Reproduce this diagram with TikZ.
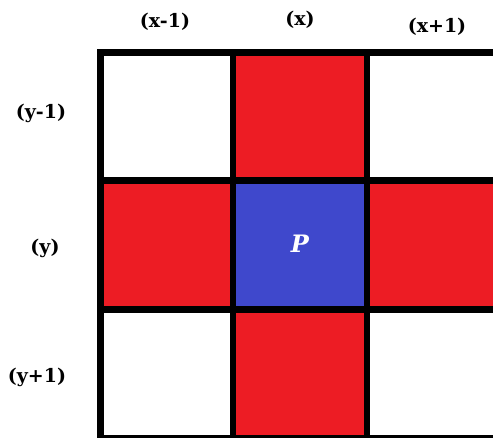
\documentclass[tikz,border=0pt]{standalone}
\usepackage{fontspec}
\setmainfont{DejaVu Serif}
\usepackage{tikz}

\definecolor{cellred}{HTML}{ED1C24}
\definecolor{cellblue}{HTML}{3F48CC}

\begin{document}
\begin{tikzpicture}[
  x=1pt,y=-1pt,
  lbl/.style={font=\fontsize{19}{21}\selectfont\bfseries},
  gridline/.style={line width=6.5pt}
]
\useasboundingbox (0,0) rectangle (493,437);
\clip (0,0) rectangle (493,437);

% cells
\fill[cellred] (233,52.5) rectangle (367,180.5);
\fill[cellred] (100.5,180.5) rectangle (233,309.5);
\fill[cellred] (367,180.5) rectangle (500,309.5);
\fill[cellred] (233,309.5) rectangle (367,438);
\fill[cellblue] (233,180.5) rectangle (367,309.5);

% grid
\draw[gridline] (100.5,49.25) -- (100.5,441);
\draw[gridline] (233,52.5) -- (233,441);
\draw[gridline] (367,52.5) -- (367,441);
\draw[gridline] (97.25,52.5) -- (500,52.5);
\draw[gridline] (97.25,180.5) -- (500,180.5);
\draw[gridline] (97.25,309.5) -- (500,309.5);
\draw[gridline] (97.25,438) -- (500,438);

\node[text=white,font=\fontsize{24}{26}\selectfont\bfseries\itshape] (p) at (300,244) {P};

% column labels
\node[lbl] (xm) at (165,22) {(x-1)};
\node[lbl] (x0) at (300,20) {(x)};
\node[lbl] (xp) at (437,27) {(x+1)};

% row labels
\node[lbl] (ym) at (41,113) {(y-1)};
\node[lbl] (y0) at (45,248) {(y)};
\node[lbl] (yp) at (37,377) {(y+1)};
\end{tikzpicture}
\end{document}
